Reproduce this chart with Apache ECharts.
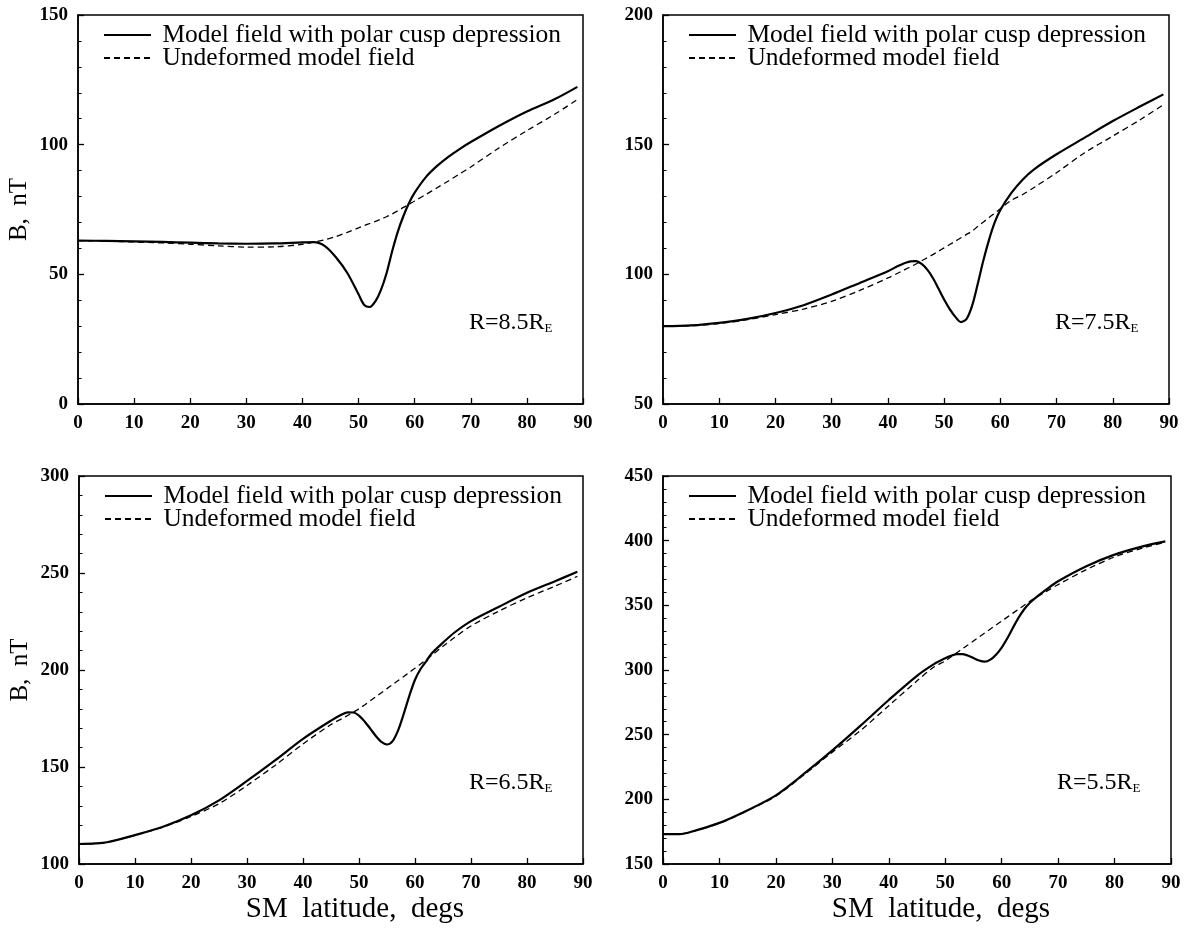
<!DOCTYPE html>
<html><head><meta charset="utf-8">
<script src="https://cdn.jsdelivr.net/npm/echarts@6/dist/echarts.min.js"></script>
<style>html,body{margin:0;padding:0;background:#fff}#c{width:1188px;height:931px}</style>
</head><body><div id="c"></div>
<script>
// ---- data ----
const seriesNames = ['Model field with polar cusp depression', 'Undeformed model field'];
const panelLabels = ['R=8.5R{s|E}', 'R=7.5R{s|E}', 'R=6.5R{s|E}', 'R=5.5R{s|E}'];
const yMins = [0, 50, 100, 150];
const yMaxs = [150, 200, 300, 450];

// Panel 1: R = 8.5 RE
const lat1 = [0,5,10,15,20,25,30,35,40,42,44,46,48,50,51,52,53,54,55,56,57,58,59,60,62,64,66,68,70,75,80,85,89];
const solid1 = [63.0,62.9,62.7,62.5,62.2,61.9,61.8,61.9,62.3,62.4,60.9,56.5,50.5,42.3,38.2,37.4,39.6,44.0,50.5,59.0,66.5,72.5,77.5,81.5,87.5,91.8,95.3,98.3,101.0,107.2,112.8,117.6,122.3];
const dashed1 = [63.0,62.8,62.5,62.1,61.6,61.0,60.5,60.6,61.6,62.4,63.3,64.6,66.2,67.9,68.8,69.6,70.4,71.3,72.2,73.3,74.5,75.8,77.0,78.3,80.8,83.4,86.0,88.7,91.4,98.7,105.4,111.8,117.4];

// Panel 2: R = 7.5 RE
const lat2 = [0,5,10,15,20,25,30,35,40,42,44,45,46,47,48,49,50,51,52,53,54,55,56,57,58,59,60,62,64,66,70,75,80,85,89];
const solid2 = [80.0,80.3,81.3,82.8,85.1,88.1,92.2,96.7,101.2,103.4,105.0,105.1,104.0,101.8,98.6,94.5,90.3,86.6,83.6,81.6,82.8,88.0,96.5,105.5,113.4,120.0,124.8,131.5,136.6,140.5,146.3,152.7,159.1,164.9,169.4];
const dashed2 = [80.0,80.2,81.0,82.5,84.5,86.6,89.6,93.8,98.6,100.7,102.9,104.0,105.2,106.4,107.6,108.9,110.2,111.5,112.8,114.1,115.4,116.7,118.5,120.2,121.9,123.6,125.3,128.6,130.8,133.5,139.2,146.9,153.3,159.8,165.4];

// Panel 3: R = 6.5 RE
const lat3 = [0,3,5,10,15,20,25,30,35,40,45,47,48,49,50,51,52,53,54,55,56,57,58,59,60,61,62,63,65,67,70,75,80,85,89];
const solid3 = [110.3,110.6,111.2,114.9,119.2,125.1,132.8,142.8,153.4,164.5,173.9,177.2,178.2,178.1,176.5,173.5,169.8,166.0,162.9,161.6,163.3,169.0,177.5,186.8,195.0,200.5,204.5,208.6,214.1,219.2,225.2,232.6,239.8,245.8,250.6];
const dashed3 = [110.3,110.6,111.2,114.8,119.0,124.5,131.1,140.5,150.8,161.9,171.9,175.0,176.6,178.3,180.0,182.0,184.1,186.2,188.3,190.4,192.5,194.6,196.7,198.8,200.9,203.1,205.3,207.6,212.2,216.6,222.7,230.4,237.2,243.2,248.3];

// Panel 4: R = 5.5 RE
const lat4 = [0,3,5,10,15,20,25,30,35,40,45,48,50,51,52,53,54,55,56,57,58,59,60,61,62,63,64,65,66,68,70,75,80,85,89];
const solid4 = [173.1,173.1,174.9,181.8,191.6,203.1,219.8,237.8,257.0,276.8,295.5,304.5,309.1,311.0,312.2,312.3,311.2,309.3,307.3,306.4,308.0,311.8,317.3,324.5,332.7,340.5,347.0,352.0,355.8,362.5,368.6,380.2,389.2,395.6,399.4];
const dashed4 = [173.1,173.1,174.8,181.5,191.2,202.5,219.0,236.5,253.2,272.4,291.6,302.3,307.0,310.1,313.2,316.3,319.3,322.4,325.5,328.6,331.7,334.8,337.8,340.9,344.0,347.0,350.1,353.2,355.9,361.0,366.0,377.6,387.4,394.3,398.7];

const lats = [lat1, lat2, lat3, lat4];
const solids = [solid1, solid2, solid3, solid4];
const dasheds = [dashed1, dashed2, dashed3, dashed4];

// ---- layout ----
const grids = [
  {left: 78, top: 15, width: 505, height: 389},
  {left: 663, top: 15, width: 506, height: 389},
  {left: 79, top: 476, width: 504, height: 388},
  {left: 663, top: 476, width: 508, height: 388}
];
const serif = '"Liberation Serif", "DejaVu Serif", serif';
const zip = (xs, ys) => xs.map((x, i) => [x, ys[i]]);

const option = {
  backgroundColor: '#fff',
  animation: false,
  grid: grids.map(g => Object.assign({show: true, borderColor: '#000', borderWidth: 1.5, backgroundColor: 'transparent'}, g)),
  xAxis: grids.map((g, i) => ({
    type: 'value', gridIndex: i, min: 0, max: 90, interval: 10,
    axisLine: {show: true, lineStyle: {color: '#000', width: 1.5}},
    axisTick: {show: true, inside: true, length: 6, lineStyle: {color: '#000', width: 1.3}},
    axisLabel: {margin: 10, color: '#000', fontFamily: serif, fontWeight: 'bold', fontSize: 19},
    splitLine: {show: false},
    name: i >= 2 ? 'SM  latitude,  degs' : '',
    nameLocation: 'middle', nameGap: 31,
    nameTextStyle: {fontFamily: serif, fontSize: 29, color: '#000', padding: [0, 0, 0, 48]}
  })),
  yAxis: grids.map((g, i) => ({
    type: 'value', gridIndex: i, min: yMins[i], max: yMaxs[i], interval: 50,
    axisLine: {show: true, lineStyle: {color: '#000', width: 1.5}},
    axisTick: {show: true, inside: true, length: 6, lineStyle: {color: '#000', width: 1.3}},
    minorTick: {show: true, splitNumber: 5, length: 3.5, lineStyle: {color: '#000', width: 1}},
    axisLabel: {margin: 10, color: '#000', fontFamily: serif, fontWeight: 'bold', fontSize: 19},
    splitLine: {show: false},
    name: (i % 2 === 0) ? 'B,  nT' : '',
    nameLocation: 'middle', nameGap: 46,
    nameTextStyle: {fontFamily: serif, fontSize: 25, color: '#000'}
  })),
  legend: grids.map((g, i) => ({
    data: seriesNames,
    orient: 'vertical',
    left: g.left + 25,
    top: g.top + 7,
    padding: 0,
    itemWidth: 47, itemHeight: 14, itemGap: -3,
    selectedMode: false,
    itemStyle: {opacity: 0},
    formatter: n => ' ' + n,
    textStyle: {fontFamily: serif, fontSize: 25.5, color: '#000', lineHeight: 22}
  })),
  title: grids.map((g, i) => ({
    text: panelLabels[i],
    left: g.left + g.width - 114,
    top: g.top + g.height - 93,
    padding: 0,
    textStyle: {
      fontFamily: serif, fontSize: 24, fontWeight: 'normal', color: '#000', lineHeight: 24,
      rich: {s: {fontFamily: serif, fontSize: 13, color: '#000', lineHeight: 12, verticalAlign: 'bottom'}}
    }
  })),
  series: []
};

for (let i = 0; i < 4; i++) {
  option.series.push({
    name: seriesNames[0], type: 'line', xAxisIndex: i, yAxisIndex: i,
    data: zip(lats[i], solids[i]), symbol: 'none', smooth: 0.3, z: 3,
    lineStyle: {color: '#000', width: 2.2, type: 'solid'}, itemStyle: {color: '#000'}
  });
  option.series.push({
    name: seriesNames[1], type: 'line', xAxisIndex: i, yAxisIndex: i,
    data: zip(lats[i], dasheds[i]), symbol: 'none', smooth: 0.3, z: 2,
    lineStyle: {color: '#000', width: 1.3, type: [6, 4]}, itemStyle: {color: '#000'}
  });
}

const chart = echarts.init(document.getElementById('c'));
chart.setOption(option);
</script>
</body></html>
